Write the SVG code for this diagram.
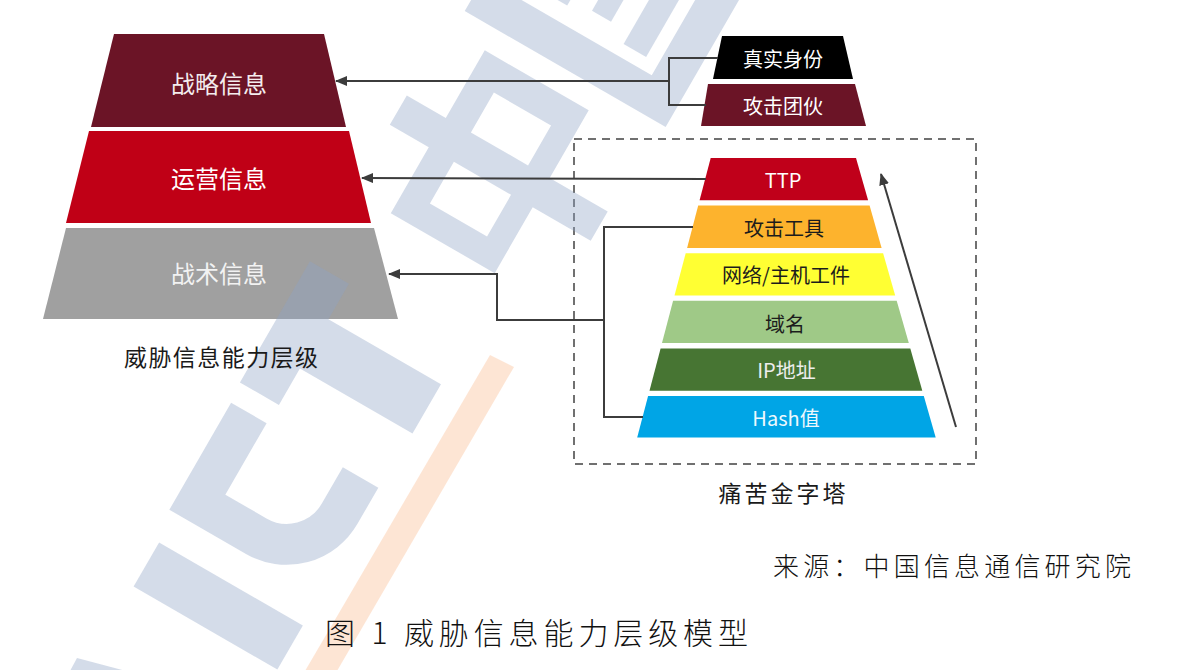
<svg xmlns="http://www.w3.org/2000/svg" width="1195" height="670" viewBox="0 0 1195 670">
<defs>
<style>
.cjk{font-family:"Noto Sans CJK SC","Noto Sans",sans-serif;}
.lt{fill:#ffffff;}
.dk{fill:#1c1c1c;}
.ln{fill:none;stroke:#3c3c3c;stroke-width:2;}
.wm{fill:#8fa3c4;opacity:0.38;}
</style>
<marker id="arr" markerUnits="userSpaceOnUse" markerWidth="12" markerHeight="10" refX="11" refY="5" orient="auto">
<path d="M0,0 L12,5 L0,10 z" fill="#3c3c3c"/>
</marker>
</defs>
<rect width="1195" height="670" fill="#ffffff"/>

<!-- left pyramid shapes -->
<g id="strategic"><polygon points="114,34 324,34 346,127 91,127" fill="#6b1426"/></g>
<g id="operational"><polygon points="89,131 349,131 371,223 66,223" fill="#c00016"/></g>
<g id="tactical"><polygon points="66,228 374,228 398,319 43,319" fill="#a0a0a0"/></g>

<!-- top right boxes -->
<g id="identity"><polygon points="722,36 843,36 853,79 713,79" fill="#000000"/></g>
<g id="group"><polygon points="708,84 855,84 866,126 701,126" fill="#6b1426"/></g>

<!-- pyramid of pain -->
<g id="pain-box"><rect x="574" y="139" width="402" height="325" fill="none" stroke="#707070" stroke-width="2" stroke-dasharray="8,6"/></g>
<g id="ttp"><polygon points="710.7,158 856,158 868.1,200.3 699.6,200.3" fill="#c0001a"/></g>
<g id="tools"><polygon points="698.2,205.6 869.6,205.6 881.6,247.9 687.1,247.9" fill="#fdb32d"/></g>
<g id="artifacts"><polygon points="685.7,253.2 883.1,253.2 895.2,295.5 674.5,295.5" fill="#ffff33"/></g>
<g id="domain"><polygon points="673.1,300.8 896.7,300.8 908.8,343.1 662,343.1" fill="#9fc987"/></g>
<g id="ip"><polygon points="660.6,348.4 910.3,348.4 922.3,390.7 649.5,390.7" fill="#477533"/></g>
<g id="hash"><polygon points="648.1,396 923.8,396 935.7,437.5 637.2,437.5" fill="#00a5e6"/></g>

<!-- watermark -->
<g id="watermark">
<g transform="translate(0,700) rotate(-60)">
<rect class="wm" x="165" y="59" width="51" height="166"/>
<path d="M373,72 L270,72 L270,140 A61,61 0 0 0 331,201 L373,201" fill="none" stroke="#8fa3c4" stroke-width="41" opacity="0.38"/>
<path class="wm" d="M395,49 H535 V94 H494 V224 H437 V94 H395 Z"/>
<path class="wm" fill-rule="evenodd" d="M617,95 H693 V50 H727 V95 H805 V215 H727 V282 H693 V215 H617 Z M645,124 V190 H693 V124 Z M727,124 V190 H773 V124 Z"/>
<path class="wm" fill-rule="evenodd" d="M829,58 H1080 V290 H829 Z M867,96 V252 H1042 V96 Z"/>
<rect class="wm" x="885" y="120" width="140" height="24"/>
<rect class="wm" x="893" y="168" width="124" height="22"/>
<rect class="wm" x="880" y="212" width="150" height="26"/>
<rect class="wm" x="943" y="144" width="26" height="68"/>
</g>
<polygon class="wm" points="77,658 126,671 70,671"/>
<polygon points="490,355 514,367 337,671 305,671" fill="#f9a870" opacity="0.3"/>
</g>

<!-- connectors -->
<g id="connectors">
<polyline class="ln" points="718,58 669,58 669,105 706,105"/>
<line class="ln" x1="669" y1="81" x2="336" y2="81" marker-end="url(#arr)"/>
<line class="ln" x1="706" y1="179" x2="362" y2="178" marker-end="url(#arr)"/>
<polyline class="ln" points="693,227 604,227 604,417 643,417"/>
<polyline class="ln" points="604,320 497,320 497,274 389,274" marker-end="url(#arr)"/>
<line class="ln" x1="956" y1="427" x2="881" y2="174" marker-end="url(#arr)"/>
</g>

<!-- texts -->
<g id="labels" class="cjk" text-anchor="middle">
<text x="219" y="92.5" font-size="24" fill="#f4ecee">战略信息</text>
<text x="219" y="187.5" font-size="24" fill="#ffffff">运营信息</text>
<text x="219" y="282.5" font-size="24" fill="#f2f2f2">战术信息</text>
<text x="221" y="365.5" font-size="23" fill="#1a1a1a" textLength="194">威胁信息能力层级</text>
<text x="783" y="66.8" font-size="20" fill="#ffffff">真实身份</text>
<text x="783" y="113.8" font-size="20" fill="#ffffff">攻击团伙</text>
<text x="783" y="187.6" font-size="20" fill="#ffffff">TTP</text>
<text x="784" y="236" font-size="20" fill="#1c1c1c">攻击工具</text>
<text x="786" y="283.3" font-size="20" fill="#1c1c1c">网络/主机工件</text>
<text x="785" y="331.6" font-size="20" fill="#1c1c1c">域名</text>
<text x="786.5" y="378.3" font-size="20" fill="#eeeeee">IP地址</text>
<text x="786" y="426" font-size="20" fill="#eef8fd">Hash值</text>
<text x="782" y="501.6" font-size="23" fill="#1a1a1a" textLength="127">痛苦金字塔</text>
</g>
<g id="captions" class="cjk">
<text x="773" y="576.4" font-size="26" font-weight="300" fill="#111111" textLength="358" lengthAdjust="spacing">来源：中国信息通信研究院</text>
<text x="325" y="643.7" font-size="30" font-weight="300" fill="#111111" textLength="423" lengthAdjust="spacing">图 1 威胁信息能力层级模型</text>
</g>
</svg>
